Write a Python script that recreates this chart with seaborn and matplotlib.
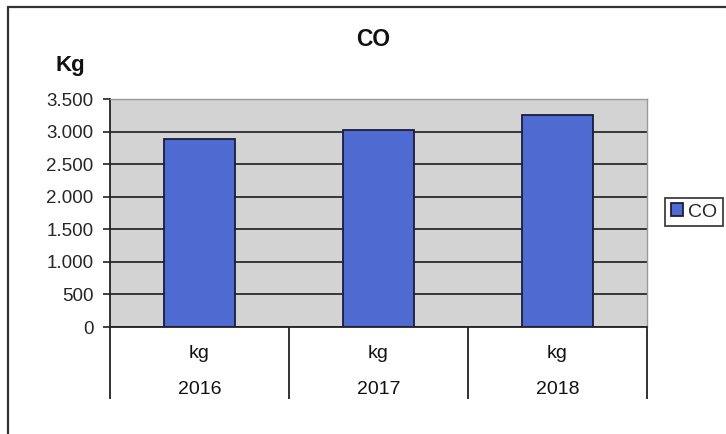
import matplotlib
matplotlib.use("Agg")
import matplotlib.pyplot as plt
from matplotlib.lines import Line2D
from matplotlib.ticker import FuncFormatter, FixedLocator
import seaborn as sns
import pandas as pd

# Annual CO emissions
years = ["2016", "2017", "2018"]
units = ["kg", "kg", "kg"]
co_values = [2880, 3020, 3260]
y_ticks = [0, 500, 1000, 1500, 2000, 2500, 3000, 3500]

sns.set_style("white")
plt.rcParams["font.family"] = ["Liberation Sans", "DejaVu Sans"]

W, H = 726, 434
fig = plt.figure(figsize=(W / 100, H / 100), dpi=100)
fig.patch.set_facecolor("white")

# plot area in pixel coordinates: left, top, right, bottom
px_l, px_t, px_r, px_b = 110, 99, 647, 327
ax = fig.add_axes([px_l / W, 1 - px_b / H, (px_r - px_l) / W, (px_b - px_t) / H])
ax.set_facecolor("#d3d3d3")

df = pd.DataFrame({"year": years, "CO": co_values})
sns.barplot(data=df, x="year", y="CO", color="#4d6bd0", width=0.4,
            edgecolor="#1c1c3a", linewidth=1.3, saturation=1, label="CO", ax=ax)

ax.set_xlim(-0.5, len(years) - 0.5)
ax.set_ylim(y_ticks[0], y_ticks[-1])
ax.set_xlabel("")
ax.set_ylabel("")

# horizontal gridlines behind the bars
ax.set_axisbelow(True)
ax.yaxis.grid(True, color="#2a2a2a", linewidth=1.3)
ax.xaxis.grid(False)

ax.set_yticks(y_ticks)
ax.yaxis.set_major_formatter(FuncFormatter(lambda v, p: f"{int(v):,}".replace(",", ".")))
ax.tick_params(axis="y", which="major", direction="out", length=5, width=1.2,
               color="#222222", labelsize=13.5, pad=7, left=True)

# category dividers below the axis
ax.xaxis.set_major_locator(FixedLocator([i - 0.5 for i in range(len(years) + 1)]))
ax.set_xticklabels([""] * (len(years) + 1))
ax.tick_params(axis="x", which="major", direction="out", length=52, width=1.3,
               color="#222222", bottom=True)

for spine in ["top", "right"]:
    ax.spines[spine].set_color("#9a9a9a")
    ax.spines[spine].set_linewidth(1.0)
for spine in ["left", "bottom"]:
    ax.spines[spine].set_color("#222222")
    ax.spines[spine].set_linewidth(1.3)

# two-level category labels
trans = ax.get_xaxis_transform()
for i, (u, yr) in enumerate(zip(units, years)):
    ax.text(i, -(353 - px_b) / (px_b - px_t), u, transform=trans,
            ha="center", va="center", fontsize=14, color="#111111")
    ax.text(i, -(390 - px_b) / (px_b - px_t), yr, transform=trans,
            ha="center", va="center", fontsize=14, color="#111111")

# titles
fig.text(373 / W, 1 - 39 / H, "CO", ha="center", va="center",
         fontsize=16.5, fontweight="bold", color="#111111")
fig.text(70 / W, 1 - 65 / H, "Kg", ha="center", va="center",
         fontsize=16, fontweight="bold", color="#111111")

# legend
if ax.get_legend():
    ax.get_legend().remove()
handles, labels = ax.get_legend_handles_labels()
leg = fig.legend(handles[:1], labels[:1], loc="center left",
                 bbox_to_anchor=(665 / W, 1 - 212 / H), frameon=True,
                 fancybox=False, edgecolor="#111111", fontsize=14,
                 handlelength=0.6, handleheight=0.6, handletextpad=0.3,
                 borderpad=0.3, borderaxespad=0)
leg.get_frame().set_linewidth(1.3)

# outer chart frame
fig.add_artist(Line2D([8 / W, 8 / W], [0, 1 - 7 / H], transform=fig.transFigure,
                      color="#333333", linewidth=1.6))
fig.add_artist(Line2D([8 / W, 1], [1 - 7 / H, 1 - 7 / H], transform=fig.transFigure,
                      color="#333333", linewidth=1.6))

fig.savefig("out.png", dpi=100, facecolor="white")
